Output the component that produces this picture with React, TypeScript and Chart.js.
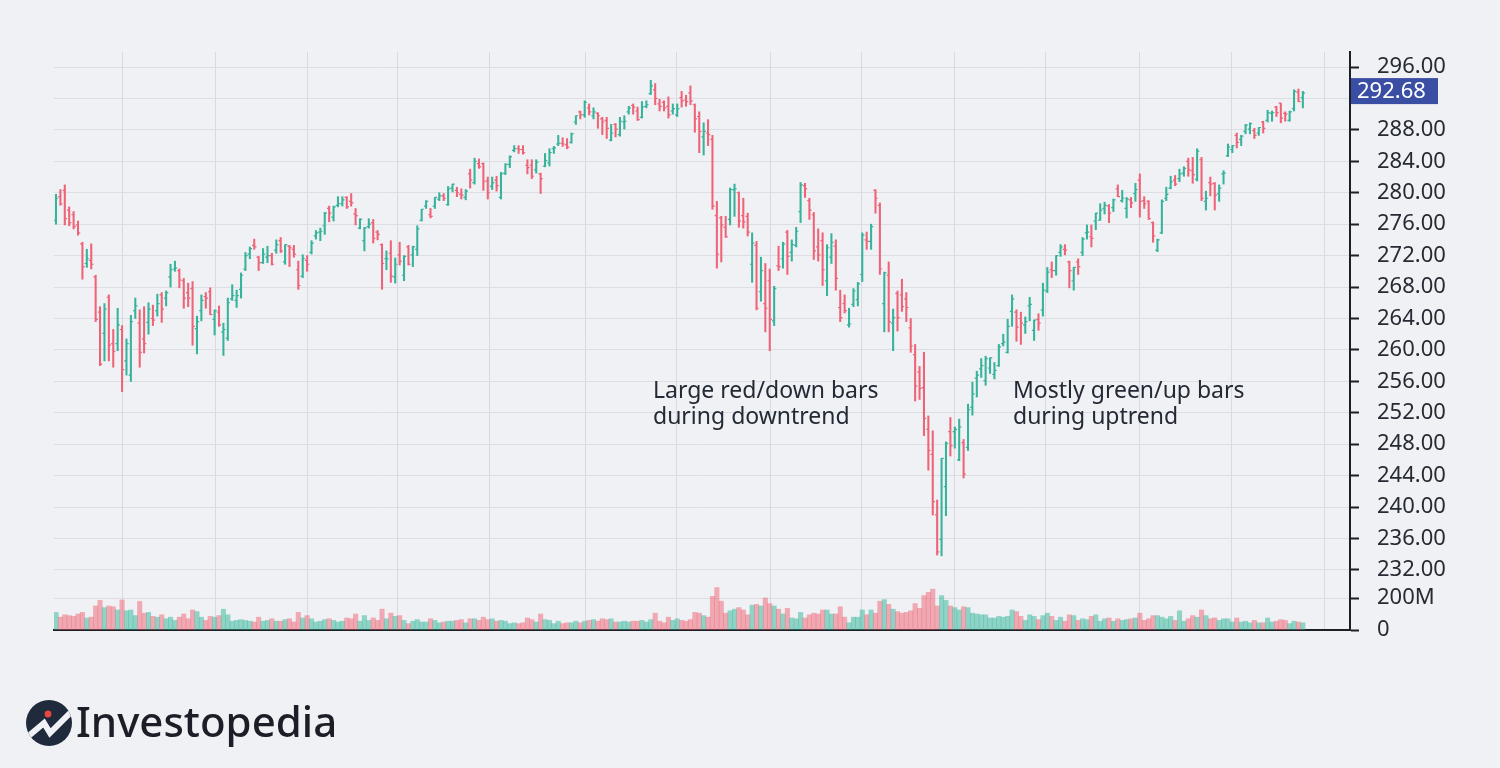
import React, { useEffect, useRef } from "react";
import { Chart, registerables } from "chart.js";

Chart.register(...registerables);

// Daily bars, 9 Mar 2018 – 25 Apr 2019 (one line per month)
const OPEN = [
  276.5, 279.5, 280.3, 277.8, 277.2, 275.9, 273.5, 271.0, 271.4, 269.3, 264.8, 262.1, 266.7, 260.8, 260.8,
  262.6, 258.6, 256.8, 265.0, 263.4, 261.4, 263.5, 264.0, 265.0, 267.0, 266.6, 269.3, 270.3, 270.1, 268.8, 267.3, 267.8, 262.7, 265.0, 266.8, 267.4,
  263.9, 264.8, 262.3, 261.5, 266.5, 266.3, 267.7, 270.3, 272.2, 273.3, 271.8, 271.1, 271.8, 272.0, 272.7, 273.9, 271.2, 273.2, 272.8, 270.2, 269.4, 271.4,
  272.4, 274.5, 275.0, 275.8, 278.0, 276.9, 278.4, 278.6, 279.4, 278.9, 277.3, 275.5, 273.9, 275.7, 276.2, 275.0, 273.4, 271.6, 272.3, 269.3, 272.1,
  269.5, 273.1, 272.1, 272.8, 276.5, 278.3, 277.2, 278.3, 279.2, 279.6, 278.5, 280.6, 280.3, 279.8, 279.4, 282.4, 281.3, 283.7, 283.7, 281.5, 280.8,
  281.6, 279.4, 282.5, 283.6, 285.4, 285.6, 285.5, 283.5, 283.5, 282.9, 282.4, 283.4, 283.8, 285.6, 286.2, 286.3, 286.1, 286.4, 289.0, 290.3, 289.9, 290.8, 289.8,
  290.1, 289.4, 289.2, 286.7, 288.7, 287.4, 289.0, 290.3, 291.1, 290.4, 289.6, 291.0, 292.6, 293.1, 291.3, 291.5, 291.0, 290.4, 289.9,
  292.1, 291.8, 292.7, 291.2, 289.7, 287.1, 287.6, 286.8, 277.1, 276.8, 275.6, 276.6, 280.4, 280.0, 277.1, 277.0, 270.9, 273.3, 267.4, 265.9, 268.8, 263.7, 270.7,
  271.6, 275.0, 272.4, 273.3, 277.6, 280.9, 279.0, 277.2, 273.1, 273.9, 268.8, 271.8, 273.2, 265.4, 265.9, 263.2, 265.8, 266.4, 269.6, 274.0, 273.8,
  280.3, 278.4, 265.9, 269.5, 263.4, 267.2, 267.0, 266.5, 262.8, 259.4, 257.2, 255.2, 249.9, 246.7, 239.0, 235.9, 242.6, 249.6, 249.6,
  246.0, 248.2, 247.6, 252.7, 256.4, 257.6, 256.1, 257.7, 256.9, 258.0, 260.8, 259.7, 264.9, 264.8, 264.0, 263.2, 265.6, 262.5, 263.9, 265.1, 267.5,
  270.2, 270.1, 272.4, 272.8, 271.2, 268.8, 271.2, 272.4, 274.9, 274.4, 276.4, 276.5, 278.0, 278.3, 278.1, 280.5, 279.0, 278.0, 279.1,
  279.9, 281.6, 279.0, 278.9, 276.2, 272.7, 274.9, 279.3, 280.6, 281.6, 281.8, 282.5, 284.0, 282.8, 281.7, 284.2, 278.9, 281.3, 281.2, 279.9, 282.4,
  284.7, 285.5, 287.3, 286.8, 287.8, 288.1, 287.9, 287.6, 289.0, 289.2, 290.1, 290.9, 291.4, 290.1, 289.2, 290.7, 292.8, 292.1,
];

const HIGH = [
  279.8, 280.4, 281.0, 278.2, 277.6, 276.4, 273.7, 272.8, 273.5, 269.5, 265.5, 265.9, 267.0, 262.6, 265.3,
  263.1, 261.4, 264.4, 266.6, 265.1, 265.5, 266.0, 265.7, 267.1, 267.3, 267.5, 270.9, 271.3, 270.3, 269.1, 268.5, 268.7, 264.3, 267.0, 267.3, 267.9,
  265.1, 265.6, 263.4, 266.6, 268.3, 267.6, 269.8, 272.4, 273.1, 274.1, 271.9, 272.9, 273.2, 272.3, 274.0, 274.3, 273.4, 273.3, 273.3, 271.3, 272.1, 272.0,
  273.9, 275.2, 275.5, 277.5, 278.3, 278.3, 279.5, 279.5, 279.5, 279.9, 278.0, 276.7, 275.6, 276.7, 276.6, 275.2, 273.5, 272.6, 273.9, 271.7, 273.7,
  272.0, 273.3, 273.2, 275.8, 277.9, 279.0, 278.0, 279.4, 280.0, 279.9, 280.8, 281.1, 280.7, 280.5, 280.4, 283.0, 284.4, 284.3, 283.8, 282.0, 282.0,
  282.1, 282.6, 283.7, 284.7, 286.0, 286.0, 286.0, 284.2, 284.2, 284.2, 282.5, 285.0, 285.6, 285.9, 287.3, 287.0, 286.9, 287.6, 289.8, 290.4, 291.7, 291.3, 290.8,
  290.2, 289.6, 289.6, 288.7, 288.8, 289.6, 289.8, 291.0, 291.3, 290.9, 291.6, 291.7, 294.3, 293.9, 291.9, 291.7, 292.2, 291.3, 291.3,
  292.9, 292.4, 293.6, 291.3, 290.3, 288.9, 289.3, 287.3, 278.9, 277.0, 277.0, 280.6, 281.1, 280.1, 279.3, 277.4, 274.9, 273.8, 271.8, 271.0, 270.3, 268.1, 273.2,
  273.7, 275.2, 274.0, 275.6, 281.3, 281.2, 279.3, 277.5, 275.4, 274.9, 273.4, 274.8, 274.0, 267.6, 267.0, 265.3, 267.8, 268.6, 274.9, 275.0, 276.0,
  280.4, 278.7, 269.9, 271.2, 265.2, 267.5, 269.0, 267.3, 264.0, 260.7, 257.9, 259.7, 251.6, 249.7, 240.9, 246.2, 248.3, 251.4, 250.2,
  251.2, 248.6, 253.1, 255.9, 257.3, 258.9, 259.2, 259.0, 258.4, 260.7, 262.0, 263.9, 267.0, 265.1, 264.8, 264.2, 266.7, 263.8, 264.6, 268.5, 270.5,
  271.2, 272.0, 273.4, 273.4, 271.3, 270.5, 271.6, 274.3, 275.9, 275.9, 277.4, 278.6, 278.8, 278.5, 279.2, 281.0, 280.3, 279.4, 279.4,
  281.2, 282.4, 279.5, 279.0, 276.3, 274.1, 279.1, 280.7, 282.1, 282.2, 283.0, 283.3, 284.4, 284.5, 285.6, 284.5, 280.2, 282.0, 281.3, 281.0, 282.8,
  286.2, 286.0, 287.6, 287.3, 288.7, 288.9, 288.2, 288.3, 289.1, 290.5, 290.4, 291.0, 291.4, 290.3, 290.4, 293.1, 293.2, 292.9,
];

const LOW = [
  276.0, 278.4, 275.9, 275.8, 275.4, 274.6, 269.0, 270.5, 270.3, 263.6, 258.0, 258.6, 258.6, 257.8, 259.9,
  254.7, 256.8, 256.0, 264.0, 257.8, 259.6, 262.0, 263.1, 264.3, 263.5, 265.6, 268.0, 270.0, 267.9, 265.3, 265.5, 260.6, 259.5, 263.7, 265.3, 264.5,
  261.9, 263.0, 259.3, 261.2, 266.3, 265.4, 266.6, 270.1, 271.6, 272.8, 270.1, 271.0, 271.1, 270.8, 272.3, 272.4, 270.9, 270.6, 271.8, 267.7, 269.2, 270.0,
  272.2, 274.1, 273.9, 274.7, 276.3, 276.4, 278.2, 278.3, 278.0, 278.3, 275.9, 275.4, 272.6, 275.5, 273.6, 274.0, 267.7, 270.2, 268.6, 268.5, 270.8,
  268.8, 270.8, 270.6, 272.0, 276.4, 278.0, 276.8, 278.0, 279.0, 279.0, 278.4, 280.1, 279.5, 279.2, 279.1, 280.6, 281.1, 283.1, 280.3, 279.2, 280.4,
  280.2, 279.2, 282.3, 283.2, 285.2, 285.0, 284.9, 282.4, 281.8, 282.5, 279.9, 283.3, 283.4, 285.0, 286.0, 285.9, 285.6, 286.3, 288.7, 289.4, 289.6, 289.9, 289.4,
  288.2, 287.4, 286.9, 286.6, 287.1, 287.2, 288.1, 290.0, 290.0, 289.2, 289.5, 290.8, 292.5, 291.2, 290.4, 290.4, 289.5, 290.0, 289.7,
  290.9, 291.0, 291.2, 287.7, 285.1, 284.8, 286.0, 277.9, 270.4, 271.2, 274.3, 275.9, 277.0, 275.6, 275.5, 274.5, 268.6, 265.1, 266.2, 262.3, 259.9, 263.1, 270.1,
  270.4, 269.6, 271.3, 273.1, 276.2, 279.4, 276.6, 271.5, 271.3, 268.2, 266.9, 271.0, 267.6, 263.6, 264.7, 262.9, 265.5, 265.6, 268.7, 272.8, 272.8,
  277.4, 269.6, 262.3, 262.3, 259.9, 262.4, 264.9, 263.6, 259.7, 253.5, 253.7, 249.1, 244.7, 239.0, 233.9, 233.8, 238.9, 246.5, 247.5,
  245.9, 243.7, 247.2, 251.7, 254.0, 256.5, 255.5, 257.0, 256.3, 257.9, 260.5, 259.6, 263.0, 261.1, 260.7, 262.1, 263.7, 261.2, 262.5, 264.3, 267.3,
  269.2, 269.5, 271.9, 272.1, 267.9, 267.6, 269.6, 272.0, 274.1, 273.1, 275.3, 276.5, 277.3, 276.2, 277.6, 279.5, 278.8, 276.8, 278.1,
  278.9, 276.9, 278.0, 276.6, 273.7, 272.5, 274.8, 279.0, 280.5, 280.9, 281.4, 282.1, 282.1, 281.2, 281.5, 279.0, 277.8, 279.6, 277.8, 278.9, 281.1,
  284.6, 285.1, 285.7, 286.0, 287.5, 287.5, 286.9, 287.3, 287.6, 289.0, 289.1, 289.7, 288.9, 289.1, 289.1, 290.4, 291.6, 290.8,
];

const CLOSE = [
  279.3, 278.6, 276.7, 276.2, 275.7, 274.9, 270.6, 271.6, 270.9, 263.9, 258.2, 265.2, 260.6, 259.8, 263.2,
  257.5, 260.8, 263.6, 265.6, 259.7, 260.8, 265.2, 263.8, 265.9, 265.2, 267.3, 270.2, 270.4, 268.9, 266.6, 266.6, 263.0, 263.6, 266.3, 266.6, 264.5,
  265.0, 263.2, 262.6, 266.0, 266.9, 266.9, 269.5, 272.0, 272.9, 273.1, 271.1, 272.2, 272.0, 270.9, 273.4, 272.6, 273.4, 273.0, 272.2, 268.2, 271.6, 270.9,
  273.6, 274.9, 275.1, 277.4, 277.4, 278.2, 278.6, 279.1, 278.2, 278.7, 277.1, 276.6, 275.5, 276.0, 274.2, 274.7, 271.0, 271.6, 269.4, 270.9, 271.3,
  271.9, 270.9, 273.1, 275.4, 277.9, 278.9, 277.0, 279.4, 279.6, 279.3, 280.5, 281.1, 280.0, 279.7, 280.2, 281.6, 284.0, 283.3, 281.4, 280.0, 281.3,
  280.9, 282.4, 283.6, 284.6, 285.6, 285.5, 285.1, 283.2, 282.1, 283.9, 281.8, 284.1, 285.1, 285.7, 286.3, 286.2, 285.8, 287.5, 289.8, 289.9, 291.5, 290.3, 290.3,
  289.8, 289.0, 288.2, 287.6, 288.1, 289.1, 289.1, 290.8, 290.9, 289.3, 290.9, 291.2, 293.6, 292.0, 291.0, 290.8, 289.9, 290.7, 290.7,
  291.7, 291.6, 291.7, 289.4, 287.8, 287.8, 287.4, 278.3, 272.2, 275.9, 274.4, 280.4, 280.5, 276.4, 276.3, 275.0, 273.6, 265.3, 270.1, 265.3, 263.9, 267.8, 270.6,
  273.5, 271.9, 273.4, 275.1, 281.0, 280.5, 277.8, 272.6, 272.1, 270.2, 273.0, 273.7, 269.1, 264.1, 265.0, 263.3, 267.5, 268.4, 274.6, 273.8, 275.7,
  279.3, 270.3, 269.8, 263.6, 264.1, 264.1, 265.5, 265.4, 260.5, 255.4, 255.1, 251.3, 247.2, 240.7, 234.3, 246.2, 248.1, 247.8, 249.9,
  250.2, 244.2, 252.4, 254.4, 256.8, 258.0, 258.9, 259.0, 257.4, 260.4, 261.0, 263.0, 266.5, 262.9, 263.4, 263.6, 265.8, 263.8, 263.4, 267.6, 269.9,
  270.1, 272.0, 273.1, 272.7, 270.1, 270.5, 270.6, 274.1, 275.0, 274.2, 277.4, 277.8, 278.4, 277.4, 279.1, 279.5, 279.3, 279.2, 278.7,
  280.4, 278.9, 278.6, 276.7, 274.5, 274.0, 278.9, 279.8, 281.4, 281.1, 282.4, 283.1, 282.9, 282.3, 285.3, 279.3, 279.3, 281.1, 279.7, 280.6, 282.5,
  285.8, 286.0, 286.4, 287.2, 288.6, 288.8, 287.3, 288.3, 288.2, 290.2, 290.2, 290.2, 289.5, 290.0, 290.3, 292.9, 291.6, 292.68,
];

// Volume in millions of shares
const VOLUME = [
  110, 80, 95, 90, 85, 100, 110, 75, 80, 150, 185, 140, 150, 145, 125,
  188, 120, 125, 90, 178, 105, 110, 85, 80, 95, 70, 80, 60, 80, 100, 70, 125, 115, 80, 60, 85,
  80, 90, 130, 95, 55, 60, 65, 60, 55, 50, 80, 55, 60, 70, 55, 55, 65, 70, 50, 110, 75, 90,
  70, 50, 55, 65, 70, 60, 50, 55, 75, 70, 100, 55, 90, 60, 75, 60, 130, 70, 105, 85, 90,
  60, 40, 55, 65, 50, 50, 70, 60, 45, 50, 55, 55, 60, 65, 45, 70, 70, 60, 80, 65, 70,
  55, 60, 55, 40, 45, 40, 45, 75, 65, 50, 100, 65, 60, 40, 55, 40, 45, 45, 55, 45, 55, 60, 65,
  55, 70, 65, 70, 50, 50, 55, 50, 55, 55, 60, 50, 65, 105, 55, 45, 80, 60, 70,
  60, 55, 65, 110, 105, 90, 80, 210, 265, 180, 105, 120, 130, 140, 125, 95, 155, 160, 150, 200, 165, 150, 130,
  100, 135, 75, 70, 110, 75, 95, 105, 100, 125, 125, 100, 100, 145, 80, 45, 80, 80, 125, 95, 125,
  105, 180, 190, 160, 130, 115, 105, 110, 120, 165, 135, 215, 235, 255, 150, 215, 185, 150, 140,
  125, 145, 140, 105, 100, 95, 95, 75, 75, 85, 80, 85, 125, 115, 85, 60, 95, 85, 65, 90, 105,
  85, 60, 80, 55, 95, 90, 60, 70, 65, 85, 95, 55, 70, 75, 55, 70, 60, 65, 70,
  75, 105, 60, 70, 90, 90, 80, 70, 85, 60, 120, 55, 70, 90, 80, 125, 90, 70, 75, 60, 70,
  70, 50, 75, 50, 55, 45, 60, 45, 45, 75, 50, 55, 65, 60, 40, 55, 50, 45,
];

const PRICE_TICKS = [232, 236, 240, 244, 248, 252, 256, 260, 264, 268, 272, 276, 280, 284, 288, 292, 296];
const VOLUME_TICKS = [0, 200];
// vertical grid lines (bar-index positions)
const TIME_GRID = [15, 36.1, 57, 77.6, 98.5, 120.1, 140.9, 162.1, 182.9, 204, 224.5, 246, 266.9, 288];

const UP = "#36b39b";
const DOWN = "#ef6377";
const UP_VOL = "rgba(46,182,152,0.5)";
const DOWN_VOL = "rgba(240,96,112,0.5)";
const INK = "#1c1f26";
const FONT = '"Noto Sans", "DejaVu Sans", sans-serif';

const isUp = (i: number) => CLOSE[i] >= OPEN[i];

const ohlcTicks = {
  id: "ohlcTicks",
  afterDatasetsDraw(chart: any) {
    const { ctx, chartArea, scales } = chart;
    const xs = scales.x;
    const ys = scales.y;
    ctx.save();
    ctx.beginPath();
    ctx.rect(chartArea.left, chartArea.top, chartArea.right - chartArea.left, chartArea.bottom - chartArea.top);
    ctx.clip();
    ctx.lineWidth = 1.2;
    for (let i = 0; i < CLOSE.length; i++) {
      const x = xs.getPixelForValue(i);
      const yo = ys.getPixelForValue(OPEN[i]);
      const yc = ys.getPixelForValue(CLOSE[i]);
      ctx.strokeStyle = isUp(i) ? UP : DOWN;
      ctx.beginPath();
      ctx.moveTo(x - 2.2, yo);
      ctx.lineTo(x, yo);
      ctx.moveTo(x, yc);
      ctx.lineTo(x + 2.2, yc);
      ctx.stroke();
    }
    ctx.restore();
  },
};

const lastPrice = {
  id: "lastPrice",
  afterDraw(chart: any) {
    const { ctx } = chart;
    const ys = chart.scales.y;
    const last = CLOSE[CLOSE.length - 1];
    const py = ys.getPixelForValue(last);
    ctx.save();
    ctx.fillStyle = "#3a4ea3";
    ctx.fillRect(ys.left + 1, py - 15, 87, 26);
    ctx.fillStyle = "#ffffff";
    ctx.font = `22px ${FONT}`;
    ctx.textAlign = "left";
    ctx.textBaseline = "middle";
    ctx.fillText(last.toFixed(2), ys.left + 7, py - 1);
    ctx.restore();
  },
};

export default function App() {
  const ref = useRef<HTMLCanvasElement>(null);

  useEffect(() => {
    if (!ref.current) return;
    const chart = new Chart(ref.current, {
      type: "bar",
      data: {
        datasets: [
          {
            label: "Price",
            data: CLOSE.map((_, i) => ({ x: i, y: [LOW[i], HIGH[i]] })) as any,
            backgroundColor: CLOSE.map((_, i) => (isUp(i) ? UP : DOWN)),
            barThickness: 1.4,
            grouped: false,
            yAxisID: "y",
          } as any,
          {
            label: "Volume",
            data: VOLUME.map((v, i) => ({ x: i, y: v })) as any,
            backgroundColor: VOLUME.map((_, i) => (isUp(i) ? UP_VOL : DOWN_VOL)),
            barPercentage: 1,
            categoryPercentage: 1,
            grouped: false,
            yAxisID: "yv",
          } as any,
        ],
      },
      options: {
        responsive: false,
        animation: false,
        layout: { padding: { left: 54, top: 52, right: 0, bottom: 138 } },
        plugins: { legend: { display: false }, tooltip: { enabled: false } },
        scales: {
          x: {
            type: "linear",
            min: -0.45,
            max: 293.7,
            offset: false,
            grid: { color: "#d8dae0", lineWidth: 1, drawTicks: false, offset: false },
            border: { display: true, color: INK, width: 2 },
            ticks: { display: false },
            afterBuildTicks: (s: any) => {
              s.ticks = TIME_GRID.map((v) => ({ value: v }));
            },
            afterFit: (s: any) => {
              s.height = 0;
            },
          },
          y: {
            position: "right",
            stack: "right",
            stackWeight: 530,
            min: 230.47,
            max: 297.909,
            afterBuildTicks: (s: any) => {
              s.ticks = PRICE_TICKS.map((v) => ({ value: v }));
            },
            afterFit: (s: any) => {
              s.width = 150;
            },
            ticks: {
              autoSkip: false,
              padding: 18,
              color: "#262a33",
              font: { family: FONT, size: 22 },
              callback: (v: any) => (Number(v) === 292 ? "" : Number(v).toFixed(2)),
            },
            grid: { color: "#dcdee3", lineWidth: 1, tickLength: 9, tickColor: INK, tickWidth: 2 },
            border: { display: true, color: INK, width: 2 },
          },
          yv: {
            position: "right",
            stack: "right",
            stackWeight: 48,
            min: 0,
            max: 300,
            afterBuildTicks: (s: any) => {
              s.ticks = VOLUME_TICKS.map((v) => ({ value: v }));
            },
            afterFit: (s: any) => {
              s.width = 150;
            },
            ticks: {
              autoSkip: false,
              padding: 18,
              color: "#262a33",
              font: { family: FONT, size: 22 },
              callback: (v: any) => (Number(v) === 0 ? "0" : `${v}M`),
            },
            grid: { color: "#dcdee3", lineWidth: 1, tickLength: 9, tickColor: INK, tickWidth: 2 },
            border: { display: true, color: INK, width: 2 },
          },
        } as any,
      },
      plugins: [ohlcTicks, lastPrice],
    } as any);
    return () => chart.destroy();
  }, []);

  const noteStyle: React.CSSProperties = {
    position: "absolute",
    top: 376,
    font: `23px ${FONT}`,
    lineHeight: "26px",
    color: "#232a35",
    whiteSpace: "nowrap",
  };

  return (
    <div
      style={{
        position: "fixed",
        left: 0,
        top: 0,
        width: 1500,
        height: 768,
        background: "#f0f1f4",
        overflow: "hidden",
      }}
    >
      <canvas ref={ref} width={1500} height={768} style={{ position: "absolute", left: 0, top: 0 }} />
      <div style={{ ...noteStyle, left: 653 }}>
        Large red/down bars
        <br />
        during downtrend
      </div>
      <div style={{ ...noteStyle, left: 1013 }}>
        Mostly green/up bars
        <br />
        during uptrend
      </div>
      <svg
        style={{ position: "absolute", left: 25, top: 699 }}
        width={48}
        height={48}
        viewBox="0 0 48 48"
      >
        <defs>
          <clipPath id="logoClip">
            <circle cx="24" cy="24" r="23" />
          </clipPath>
        </defs>
        <circle cx="24" cy="24" r="23" fill="#1f2b3d" />
        <g clipPath="url(#logoClip)">
          <polyline
            points="0,40 19,24 25,34 48,11"
            fill="none"
            stroke="#f0f1f4"
            strokeWidth="6"
            strokeLinejoin="miter"
          />
        </g>
        <circle cx="23" cy="15" r="3.4" fill="#e8473e" />
      </svg>
      <div
        style={{
          position: "absolute",
          left: 76,
          top: 700,
          font: `500 42px ${FONT}`,
          lineHeight: "42px",
          color: "#1b1e27",
          whiteSpace: "nowrap",
        }}
      >
        Investopedia
      </div>
    </div>
  );
}
